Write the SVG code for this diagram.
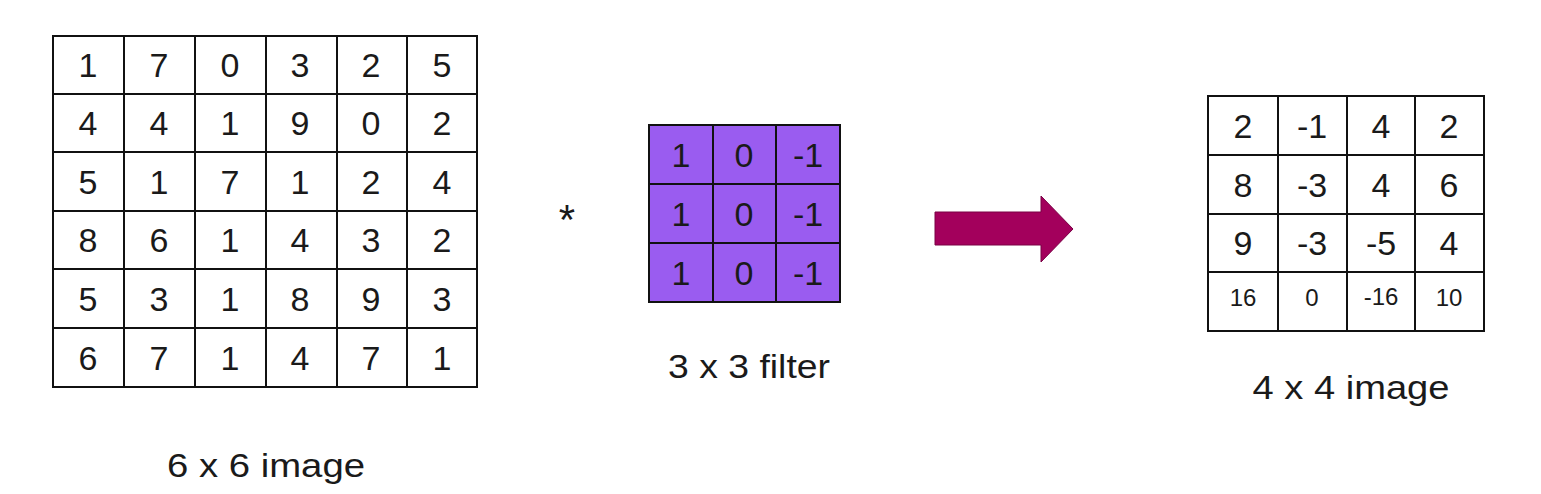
<svg xmlns="http://www.w3.org/2000/svg" width="1541" height="494" viewBox="0 0 1541 494">
<style>
.grid{fill:none;stroke:#111;stroke-width:2}
.t{font-family:"Liberation Sans","DejaVu Sans",sans-serif;font-size:34px;fill:#1a1a1a;text-anchor:middle}
.s{font-size:24px}
.lbl{font-family:"Liberation Sans","DejaVu Sans",sans-serif;font-size:34px;fill:#1a1a1a;text-anchor:middle}
</style>
<rect width="1541" height="494" fill="#fff"/>
<g id="input">
<rect x="53" y="36" width="424" height="351" fill="#fff"/>
<path class="grid" d="M53 36H477V387H53Z M124 36V387 M195 36V387 M266 36V387 M337 36V387 M407 36V387 M53 94H477 M53 152H477 M53 211H477 M53 269H477 M53 328H477"/>
<g class="t">
<text x="88" y="77">1</text><text x="159" y="77">7</text><text x="230" y="77">0</text><text x="300" y="77">3</text><text x="371" y="77">2</text><text x="442" y="77">5</text>
<text x="88" y="135">4</text><text x="159" y="135">4</text><text x="230" y="135">1</text><text x="300" y="135">9</text><text x="371" y="135">0</text><text x="442" y="135">2</text>
<text x="88" y="194">5</text><text x="159" y="194">1</text><text x="230" y="194">7</text><text x="300" y="194">1</text><text x="371" y="194">2</text><text x="442" y="194">4</text>
<text x="88" y="252">8</text><text x="159" y="252">6</text><text x="230" y="252">1</text><text x="300" y="252">4</text><text x="371" y="252">3</text><text x="442" y="252">2</text>
<text x="88" y="311">5</text><text x="159" y="311">3</text><text x="230" y="311">1</text><text x="300" y="311">8</text><text x="371" y="311">9</text><text x="442" y="311">3</text>
<text x="88" y="370">6</text><text x="159" y="370">7</text><text x="230" y="370">1</text><text x="300" y="370">4</text><text x="371" y="370">7</text><text x="442" y="370">1</text>
</g>
<text class="lbl" x="266" y="477" textLength="198" lengthAdjust="spacingAndGlyphs">6 x 6 image</text>
</g>
<g id="operator">
<text class="lbl" x="567" y="234" style="font-size:42px">*</text>
</g>
<g id="filter">
<rect x="649" y="125" width="191" height="177" fill="#9a5cf0"/>
<path class="grid" d="M649 125H840V302H649Z M713 125V302 M776 125V302 M649 184H840 M649 243H840"/>
<g class="t">
<text x="681" y="167">1</text><text x="744" y="167">0</text><text x="808" y="167">-1</text>
<text x="681" y="226">1</text><text x="744" y="226">0</text><text x="808" y="226">-1</text>
<text x="681" y="285">1</text><text x="744" y="285">0</text><text x="808" y="285">-1</text>
</g>
<text class="lbl" x="749" y="378" textLength="162" lengthAdjust="spacingAndGlyphs">3 x 3 filter</text>
</g>
<g id="connectors">
<path d="M935 212H1041V196L1073 229L1041 262V245H935Z" fill="#a3005c" stroke="#7a0045" stroke-width="1"/>
</g>
<g id="output">
<rect x="1208" y="96" width="276" height="235" fill="#fff"/>
<path class="grid" d="M1208 96H1484V331H1208Z M1278 96V331 M1347 96V331 M1415 96V331 M1208 155H1484 M1208 214H1484 M1208 272H1484"/>
<g class="t">
<text x="1243" y="138">2</text><text x="1312" y="138">-1</text><text x="1381" y="138">4</text><text x="1449" y="138">2</text>
<text x="1243" y="197">8</text><text x="1312" y="197">-3</text><text x="1381" y="197">4</text><text x="1449" y="197">6</text>
<text x="1243" y="255">9</text><text x="1312" y="255">-3</text><text x="1381" y="255">-5</text><text x="1449" y="255">4</text>
<text class="s" x="1243" y="306">16</text><text class="s" x="1312" y="306">0</text><text class="s" x="1381" y="305">-16</text><text class="s" x="1449" y="306">10</text>
</g>
<text class="lbl" x="1351" y="399" textLength="197" lengthAdjust="spacingAndGlyphs">4 x 4 image</text>
</g>
</svg>
